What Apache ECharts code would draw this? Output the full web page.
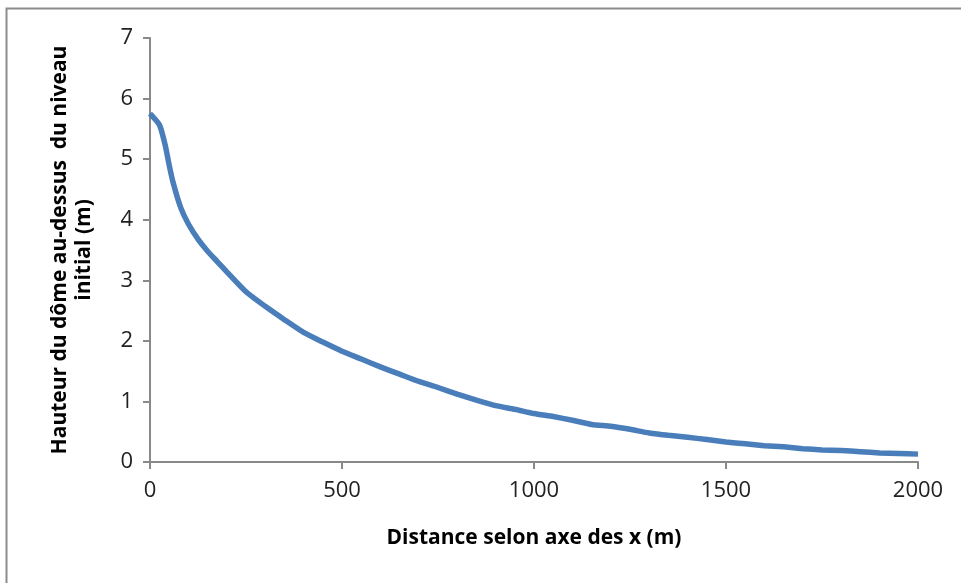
<!DOCTYPE html>
<html>
<head>
<meta charset="utf-8">
<title>index.html</title>
<script src="https://cdn.jsdelivr.net/npm/echarts@6/dist/echarts.min.js"></script>
<style>
  html, body { margin: 0; padding: 0; background: #fff; }
  #main { width: 961px; height: 583px; }
</style>
</head>
<body>
<div id="main"></div>
<script type="text/javascript">
    // distances (m) et hauteur du dôme (m)
    var distances = [0, 25, 40, 50, 60, 80, 100, 125, 150, 175, 200, 250, 300, 350, 400, 450, 500, 550, 600, 650,
        700, 750, 800, 850, 900, 950, 1000, 1050, 1100, 1150, 1200, 1250, 1300, 1350, 1400, 1450, 1500, 1550,
        1600, 1650, 1700, 1750, 1800, 1850, 1900, 1950, 2000];
    var hauteurs = [5.75, 5.56, 5.22, 4.9, 4.62, 4.2, 3.93, 3.68, 3.48, 3.31, 3.14, 2.81, 2.57, 2.35, 2.14, 1.98,
        1.83, 1.7, 1.57, 1.45, 1.33, 1.23, 1.12, 1.02, 0.93, 0.87, 0.8, 0.75, 0.69, 0.62, 0.59, 0.54, 0.48, 0.44,
        0.41, 0.37, 0.33, 0.3, 0.27, 0.25, 0.22, 0.2, 0.19, 0.17, 0.15, 0.14, 0.13];

    var yTitle = 'Hauteur du dôme au-dessus  du niveau\ninitial (m)';
    var xTitle = 'Distance selon axe des x (m)';

    var labelFont = '"Open Sans", sans-serif';
    var titleFont = '"Open Sans", "Liberation Sans", sans-serif';

    var myChart = echarts.init(document.getElementById('main'));

    myChart.setOption({
        animation: false,
        backgroundColor: '#fff',
        graphic: [{
            type: 'polyline',
            shape: { points: [[6.5, 583], [6.5, 8.5], [961, 8.5]] },
            style: { stroke: '#8c8c8c', lineWidth: 2, fill: null }
        }],
        grid: { left: 150, right: 43, top: 38, bottom: 121 },
        xAxis: {
            type: 'value',
            min: 0,
            max: 2000,
            interval: 500,
            name: xTitle,
            nameLocation: 'middle',
            nameGap: 66,
            nameTextStyle: { fontFamily: titleFont, fontWeight: 'bold', fontSize: 21, color: '#000' },
            axisLine: { show: true, lineStyle: { color: '#898989', width: 2 } },
            axisTick: { show: true, length: 7, lineStyle: { color: '#898989', width: 2 } },
            axisLabel: {
                fontFamily: labelFont, fontSize: 22, color: '#222', margin: 18,
                formatter: function (v) { return String(v); }
            },
            splitLine: { show: false }
        },
        yAxis: {
            type: 'value',
            min: 0,
            max: 7,
            interval: 1,
            name: yTitle,
            nameLocation: 'middle',
            nameGap: 54,
            nameTextStyle: { fontFamily: titleFont, fontWeight: 'bold', fontSize: 21, color: '#000', lineHeight: 24 },
            axisLine: { show: true, lineStyle: { color: '#898989', width: 2 } },
            axisTick: { show: true, length: 7, lineStyle: { color: '#898989', width: 2 } },
            axisLabel: { fontFamily: labelFont, fontSize: 22, color: '#222', margin: 17 },
            splitLine: { show: false }
        },
        series: [{
            type: 'line',
            data: distances.map(function (d, i) { return [d, hauteurs[i]]; }),
            showSymbol: false,
            smooth: 0.2,
            lineStyle: { color: '#4a7ebb', width: 5.5 },
            itemStyle: { color: '#4a7ebb' }
        }]
    });
</script>
</body>
</html>
